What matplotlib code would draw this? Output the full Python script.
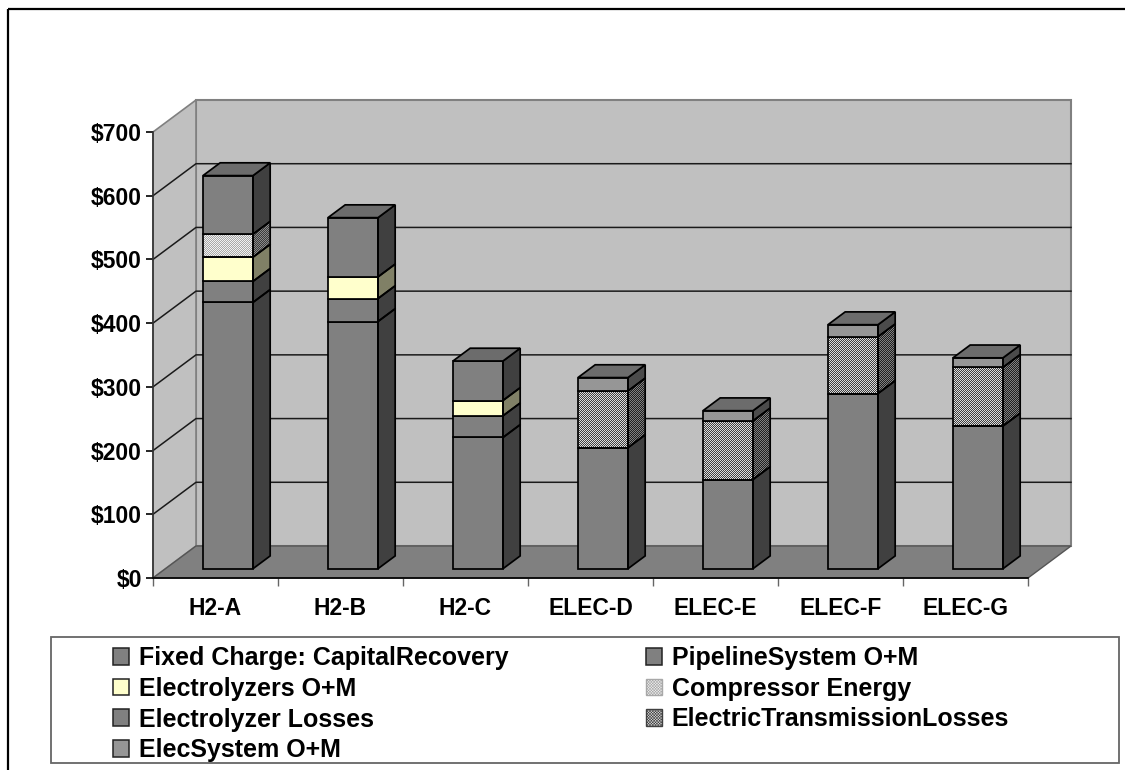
import numpy as np
import matplotlib
matplotlib.use("Agg")
import matplotlib.pyplot as plt
from matplotlib.colors import ListedColormap
from matplotlib.patches import Polygon, Patch, Rectangle

categories = ["H2-A", "H2-B", "H2-C", "ELEC-D", "ELEC-E", "ELEC-F", "ELEC-G"]
fixed_charge = [418, 388, 206, 190, 140, 275, 224]
pipeline_om = [33, 36, 34, 0, 0, 0, 0]
electrolyzers_om = [38, 34, 24, 0, 0, 0, 0]
compressor_energy = [36, 0, 0, 0, 0, 0, 0]
electrolyzer_losses = [92, 93, 62, 0, 0, 0, 0]
transmission_losses = [0, 0, 0, 89, 92, 89, 92]
elec_system_om = [0, 0, 0, 21, 16, 19, 15]
series_names = ["Fixed Charge: CapitalRecovery", "PipelineSystem O+M", "Electrolyzers O+M",
                "Compressor Energy", "Electrolyzer Losses", "ElectricTransmissionLosses",
                "ElecSystem O+M"]
y_ticks = [0, 100, 200, 300, 400, 500, 600, 700]

W, H = 1125, 770
plt.rcParams["font.family"] = ["Liberation Sans", "DejaVu Sans"]
plt.rcParams["font.weight"] = "bold"
plt.rcParams["hatch.linewidth"] = 0.4
FS_AXIS = 16.5
FS_LEG = 18

# face = front colour, side = side colour; a tuple means a two-colour dither
styles = [
    dict(face="#808080", side="#404040"),
    dict(face="#808080", side="#404040"),
    dict(face="#FFFFCC", side="#808066"),
    dict(face=("#F0F0F0", "#A8A8A8"), side=("#8A8A8A", "#3C3C3C")),
    dict(face="#808080", side="#404040"),
    dict(face=("#DCDCDC", "#404040"), side=("#808080", "#202020")),
    dict(face="#969696", side="#4B4B4B"),
]
TOP_COLOR = "#6C6C6C"
AX_W, AX_H = 875, 446
checker = np.indices((AX_H, AX_W)).sum(axis=0) % 2

fig = plt.figure(figsize=(W / 100, H / 100), dpi=100, facecolor="white")

# pixel-space overlay for chart-area and legend frames
bg = fig.add_axes([0, 0, 1, 1], zorder=0)
bg.set_xlim(0, W)
bg.set_ylim(H, 0)
bg.axis("off")
bg.plot([8, 8], [H + 5, 8.5], color="black", lw=1.6, solid_capstyle="butt")
bg.plot([8, W + 5], [8.5, 8.5], color="black", lw=1.6, solid_capstyle="butt")
bg.add_patch(Rectangle((51, 636.5), 1068, 126.5, fill=False, ec="#666666", lw=1.3))

ax = fig.add_axes([153 / W, 1 - 578 / H, AX_W / W, AX_H / H], zorder=1)
n = len(categories)
ymax = y_ticks[-1]
ax.patch.set_alpha(0)

DX = 43 / 125
DY = 32 / (AX_H / ymax)


def paint(pts, color, z=4):
    """Fill a polygon with a flat colour or a pixel dither of two colours."""
    if isinstance(color, tuple):
        clip = Polygon(pts, transform=ax.transData, fc="none", ec="none")
        ax.add_patch(clip)
        im = ax.imshow(checker, cmap=ListedColormap(list(color)), vmin=0, vmax=1,
                       extent=(0, n, 0, ymax), origin="lower", aspect="auto",
                       interpolation="nearest", zorder=z)
        im.set_clip_path(clip)
    else:
        ax.add_patch(Polygon(pts, fc=color, ec="none", lw=0, clip_on=False, zorder=z))


# walls and floor
ax.add_patch(Polygon([(DX, DY), (n + DX, DY), (n + DX, ymax + DY), (DX, ymax + DY)],
                     fc="#C0C0C0", ec="#808080", lw=1.5, clip_on=False, zorder=1))
ax.add_patch(Polygon([(0, 0), (DX, DY), (DX, ymax + DY), (0, ymax)],
                     fc="#C0C0C0", ec="#808080", lw=1.2, clip_on=False, zorder=1))
ax.add_patch(Polygon([(0, 0), (n, 0), (n + DX, DY), (DX, DY)],
                     fc="#808080", ec="#555555", lw=1.0, clip_on=False, zorder=2))

# gridlines on both walls
for t in y_ticks[1:-1]:
    ax.plot([0, DX, n + DX], [t, t + DY, t + DY], color="#1a1a1a", lw=1.1, clip_on=False, zorder=2)

# bars
near, span, bw = 0.29, 0.40, 0.40
x0 = np.arange(n) + 0.5 + near * DX
off_y = near * DY
dx, dy = span * DX, span * DY
all_series = [fixed_charge, pipeline_om, electrolyzers_om, compressor_energy,
              electrolyzer_losses, transmission_losses, elec_system_om]

bottom = np.zeros(n)
for vals, st in zip(all_series, styles):
    vals = np.asarray(vals, float)
    mask = vals > 0
    if isinstance(st["face"], tuple):
        ax.bar(x0[mask], vals[mask], bw, bottom=bottom[mask] + off_y, fill=False,
               edgecolor="black", lw=1.25, zorder=5)
    else:
        ax.bar(x0[mask], vals[mask], bw, bottom=bottom[mask] + off_y, color=st["face"],
               edgecolor="black", lw=1.25, zorder=5)
    for x, b, v in zip(x0[mask], bottom[mask], vals[mask]):
        xl, xr = x - bw / 2, x + bw / 2
        lo, hi = b + off_y, b + v + off_y
        if isinstance(st["face"], tuple):
            paint([(xl, lo), (xr, lo), (xr, hi), (xl, hi)], st["face"])
        pts = [(xr, lo), (xr + dx, lo + dy), (xr + dx, hi + dy), (xr, hi)]
        paint(pts, st["side"])
        ax.add_patch(Polygon(pts, fill=False, ec="black", lw=1.25, clip_on=False, zorder=5))
    bottom = bottom + vals

for x, top in zip(x0, bottom):
    xl, xr = x - bw / 2, x + bw / 2
    yy = top + off_y
    ax.add_patch(Polygon([(xl, yy), (xr, yy), (xr + dx, yy + dy), (xl + dx, yy + dy)],
                         fc=TOP_COLOR, ec="black", lw=1.25, clip_on=False, zorder=6))

ax.set_xlim(0, n)
ax.set_ylim(0, ymax)

# axes, ticks, labels
for s in ("top", "right"):
    ax.spines[s].set_visible(False)
ax.spines["left"].set_color("#333333")
ax.spines["bottom"].set_color("black")
ax.spines["left"].set_linewidth(1.2)
ax.spines["bottom"].set_linewidth(1.2)
ax.spines["left"].set_zorder(3)
ax.spines["bottom"].set_zorder(3)
ax.set_yticks(y_ticks)
ax.set_yticklabels([f"${t}" for t in y_ticks], fontsize=FS_AXIS, fontweight="bold")
ax.tick_params(axis="y", length=5, width=1.2, color="black", pad=3)
ax.set_xticks(np.arange(n + 1))
ax.set_xticklabels([])
ax.tick_params(axis="x", which="major", length=6, width=1.0, color="#666666")
ax.set_xticks(np.arange(n) + 0.5, minor=True)
ax.set_xticklabels(categories, minor=True, fontsize=FS_AXIS, fontweight="bold")
ax.tick_params(axis="x", which="minor", length=0, pad=14)

# legend
handles = []
for st in styles:
    if isinstance(st["face"], tuple):
        handles.append(Patch(fc=st["face"][0], ec=st["face"][1], hatch="xxxxxxxxxxxx", lw=1.0))
    else:
        handles.append(Patch(fc=st["face"], ec="#222222", lw=1.1))
order = [0, 2, 4, 6, 1, 3, 5]
leg = fig.legend([handles[i] for i in order], [series_names[i] for i in order],
                 ncol=2, loc="upper left", bbox_to_anchor=(113 / W, 1 - 646 / H),
                 frameon=False, borderpad=0, borderaxespad=0,
                 prop=dict(family="Liberation Sans", weight="bold", size=FS_LEG),
                 handlelength=0.65, handleheight=0.65, handletextpad=0.38,
                 labelspacing=0.27, columnspacing=5.5)

fig.savefig("out.png", dpi=100)
